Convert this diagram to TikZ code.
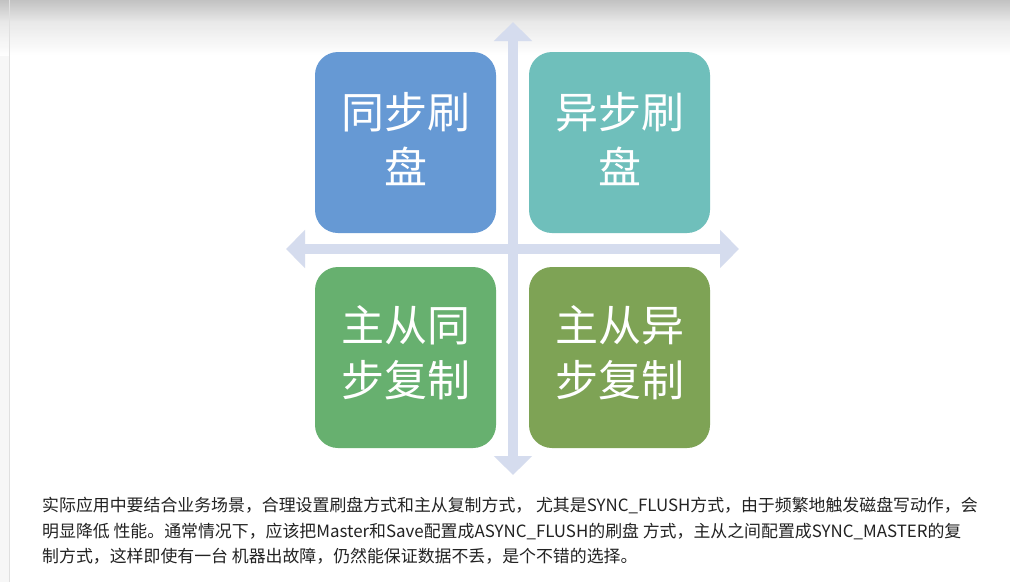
\documentclass[tikz,border=0pt]{standalone}
\usepackage{fontspec}
\setmainfont{Noto Sans CJK SC}
\usetikzlibrary{arrows.meta}
\definecolor{cblue}{HTML}{6699D4}
\definecolor{cteal}{HTML}{6FBFBB}
\definecolor{cgreen}{HTML}{67B06F}
\definecolor{colive}{HTML}{7EA355}
\definecolor{caxis}{HTML}{D5DCEE}
\definecolor{ctext}{HTML}{222222}
\tikzset{
  quad/.style={fill=#1, draw=none, rounded corners=23pt, minimum width=181pt, minimum height=181pt, inner sep=0pt},
  quadtext/.style={text=white, font=\fontsize{43}{43}\selectfont, anchor=base, inner sep=0pt},
  axis/.style={draw=caxis, line width=10pt, -{Triangle[width=37pt,length=19pt]}},
  para/.style={text=ctext, font=\fontsize{16.9}{20}\selectfont, anchor=base west, inner sep=0pt}
}
\begin{document}
\begin{tikzpicture}[x=1pt,y=-1pt]
\useasboundingbox (0,0) rectangle (1010,582);
\fill[white] (0,0) rectangle (1010,582);
\fill[black!3] (0,0) rectangle (9,582);
\shade[top color=black!24, bottom color=black!10, draw=none] (0,0) rectangle (1010,20.5);
\shade[top color=black!10, bottom color=white, draw=none, opacity=0.9] (0,20) rectangle (1010,55);
\draw[black!12, line width=1pt] (9.5,0) -- (9.5,582);
% axes
\coordinate (vc) at (513,249);
\coordinate (top) at (513,22);
\coordinate (bot) at (513,475);
\coordinate (lft) at (286,249);
\coordinate (rgt) at (739,249);
\draw[axis] (vc) -- (top);
\draw[axis] (vc) -- (bot);
\draw[axis] (vc) -- (lft);
\draw[axis] (vc) -- (rgt);
% quadrants
\node[quad=cblue] (tl) at (405.5,142.5) {};
\node[quad=cteal] (tr) at (619.5,142.5) {};
\node[quad=cgreen] (bl) at (405.5,357.5) {};
\node[quad=colive] (br) at (619.5,357.5) {};
\node[quadtext] (tl1) at (405.5,128) {同步刷};
\node[quadtext] (tl2) at (405.5,183) {盘};
\node[quadtext] (tr1) at (619.5,128) {异步刷};
\node[quadtext] (tr2) at (619.5,183) {盘};
\node[quadtext] (bl1) at (405.5,341) {主从同};
\node[quadtext] (bl2) at (405.5,396) {步复制};
\node[quadtext] (br1) at (619.5,341) {主从异};
\node[quadtext] (br2) at (619.5,396) {步复制};
% paragraph
\node[para] (p1) at (42,511.5) {实际应用中要结合业务场景，合理设置刷盘方式和主从复制方式， 尤其是SYNC\_FLUSH方式，由于频繁地触发磁盘写动作，会};
\node[para] (p2) at (42,537) {明显降低 性能。通常情况下，应该把Master和Save配置成ASYNC\_FLUSH的刷盘 方式，主从之间配置成SYNC\_MASTER的复};
\node[para] (p3) at (42,562.5) {制方式，这样即使有一台 机器出故障，仍然能保证数据不丢，是个不错的选择。};
\end{tikzpicture}
\end{document}
